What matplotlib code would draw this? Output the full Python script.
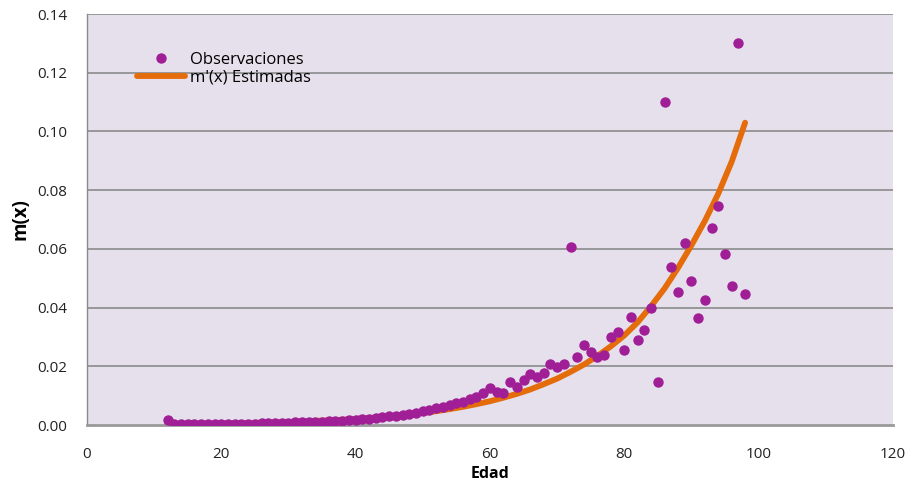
import matplotlib
matplotlib.use("Agg")
import matplotlib.pyplot as plt
from matplotlib.ticker import FormatStrFormatter

# Observed data (Edad vs m(x))
edad_obs = list(range(12, 99))
m_obs = [
    0.0017, 0.0004, 0.0002, 0.0002, 0.0003, 0.0003, 0.0004, 0.0004, 0.0004,  # 12-20
    0.0005, 0.0005, 0.0004, 0.0005, 0.0005, 0.0006, 0.0006, 0.0007, 0.0008, 0.0008,  # 21-30
    0.0009, 0.0009, 0.0010, 0.0010, 0.0011, 0.0012, 0.0013, 0.0015, 0.0016, 0.0018,  # 31-40
    0.0020, 0.0022, 0.0024, 0.0027, 0.0030, 0.0032, 0.0035, 0.0038, 0.0042, 0.0046,  # 41-50
    0.0052, 0.0058, 0.0063, 0.0068, 0.0074, 0.0079, 0.0089, 0.0097, 0.0108, 0.0125,  # 51-60
    0.0114, 0.0110, 0.0148, 0.0131, 0.0153, 0.0174, 0.0165, 0.0176, 0.0208, 0.0199,  # 61-70
    0.0208, 0.0608, 0.0233, 0.0273, 0.0250, 0.0233, 0.0238, 0.0300, 0.0316, 0.0257,  # 71-80
    0.0369, 0.0288, 0.0324, 0.0400, 0.0146, 0.1100, 0.0538, 0.0452, 0.0620, 0.0492,  # 81-90
    0.0365, 0.0426, 0.0670, 0.0747, 0.0584, 0.0472, 0.1300, 0.0447,                  # 91-98
]

# Estimated curve m'(x)
edad_est = list(range(12, 99, 2))
m_est = [
    0.0003, 0.00035, 0.0004, 0.00045, 0.0005, 0.0006, 0.0007, 0.0008, 0.0009, 0.0010,  # 12-30
    0.0012, 0.0014, 0.0016, 0.0018, 0.0021, 0.0024, 0.0027, 0.0031, 0.0036, 0.0041,    # 32-50
    0.0047, 0.0054, 0.0062, 0.0071, 0.0081, 0.0093, 0.0106, 0.0121, 0.0139, 0.0158,    # 52-70
    0.0181, 0.0206, 0.0235, 0.0268, 0.0305, 0.0350, 0.0405, 0.0465, 0.0535, 0.0612,    # 72-90
    0.0695, 0.0788, 0.0897, 0.1030,                                                    # 92-98
]

x_ticks = [0, 20, 40, 60, 80, 100, 120]
y_ticks = [0.00, 0.02, 0.04, 0.06, 0.08, 0.10, 0.12, 0.14]

plt.rcParams['font.family'] = ['Open Sans', 'DejaVu Sans']

fig = plt.figure(figsize=(9.12, 4.84), dpi=100)
ax = fig.add_axes([0.0954, 0.1219, 0.8836, 0.849])
ax.set_facecolor('#E5E0EC')

grid_c = '#8A8A8A'
for yv in y_ticks[1:]:
    ax.axhline(yv, color=grid_c, lw=1.2, zorder=1)

ax.plot(edad_est, m_est, color='#E46C0A', lw=4.2, solid_capstyle='round',
        zorder=2, label="m'(x) Estimadas")
ax.plot(edad_obs, m_obs, linestyle='none', marker='o', markersize=7.5,
        color='#A01E96', markeredgewidth=0, zorder=3, label='Observaciones')

ax.set_xlim(0, 120)
ax.set_ylim(0, 0.14)
ax.set_xticks(x_ticks)
ax.set_yticks(y_ticks)
ax.yaxis.set_major_formatter(FormatStrFormatter('%.2f'))
ax.tick_params(axis='both', length=0, labelsize=11, colors='#222222')
ax.tick_params(axis='y', pad=14)
ax.tick_params(axis='x', pad=16)

for s in ['top', 'right']:
    ax.spines[s].set_visible(False)
ax.spines['left'].set_color('#8A8A8A')
ax.spines['left'].set_linewidth(1.0)
ax.spines['bottom'].set_color('#999999')
ax.spines['bottom'].set_linewidth(2.0)

ax.set_xlabel('Edad', fontweight='bold', fontsize=11.5)
ax.xaxis.set_label_coords(0.5, -0.099)
ax.set_ylabel('m(x)', fontweight='bold', fontsize=13.5)
ax.yaxis.set_label_coords(-0.070, 0.5)

handles, labels = ax.get_legend_handles_labels()
leg = ax.legend(handles[::-1], labels[::-1], loc='upper left',
                bbox_to_anchor=(0.052, 0.929), frameon=False, fontsize=12,
                borderpad=0, handlelength=2.85, handletextpad=0.3,
                labelspacing=0.11)

fig.savefig('out.png', dpi=100)
